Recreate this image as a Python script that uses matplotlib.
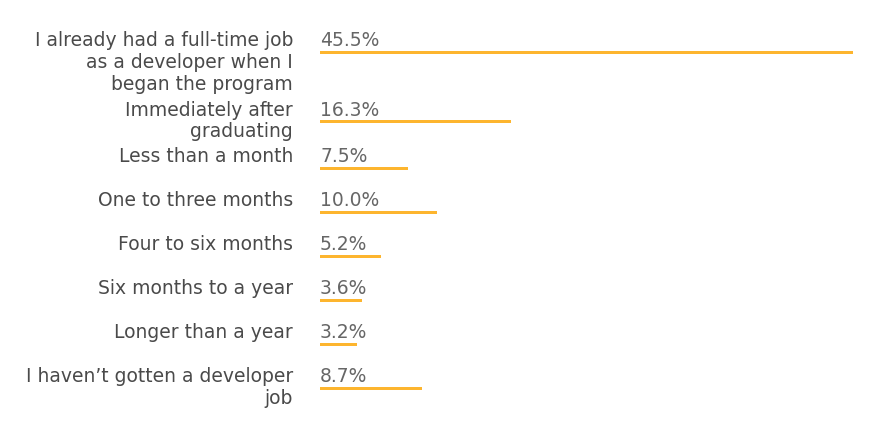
import matplotlib
matplotlib.use("Agg")
import matplotlib.pyplot as plt
from matplotlib.transforms import offset_copy

categories = [
    "I already had a full-time job\nas a developer when I\nbegan the program",
    "Immediately after\ngraduating",
    "Less than a month",
    "One to three months",
    "Four to six months",
    "Six months to a year",
    "Longer than a year",
    "I haven\u2019t gotten a developer\njob",
]
values = [45.5, 16.3, 7.5, 10.0, 5.2, 3.6, 3.2, 8.7]
value_labels = ["45.5%", "16.3%", "7.5%", "10.0%", "5.2%", "3.6%", "3.2%", "8.7%"]

W, H, DPI = 877, 429, 100
fig = plt.figure(figsize=(W / DPI, H / DPI), dpi=DPI)
ax = fig.add_axes([0, 0, 1, 1])
ax.set_axis_off()

x0_px, xmax_px = 320, 853
ppu = (xmax_px - x0_px) / max(values)
ax.set_xlim(-x0_px / ppu, (W - x0_px) / ppu)
ax.set_ylim(H, 0)

bar_color = "#FDB52E"
label_color = "#4a4a4a"
value_color = "#666666"
fs = 13.5
font = ["DejaVu Sans"]

# row positions in pixel units derived from line counts
tops = []
y = 33.0
for lab in categories:
    tops.append(y)
    n = lab.count("\n") + 1
    y += max(44.0, 25.0 + 22.0 * (n - 1))

bar_y = [t + 19.7 for t in tops]
ax.barh(bar_y, values, height=3.4, left=0, color=bar_color, edgecolor="none")

lab_tr = offset_copy(ax.transData, fig=fig, x=-27, y=0, units="dots")
for t, lab, vl in zip(tops, categories, value_labels):
    ax.text(0, t - 1.5, lab, transform=lab_tr, ha="right", va="top",
            fontsize=fs, color=label_color, family=font, linespacing=1.19)
    ax.text(0, t - 1.5, vl, ha="left", va="top", fontsize=fs,
            color=value_color, family=font)

fig.savefig("out.png", dpi=DPI, facecolor="white")
